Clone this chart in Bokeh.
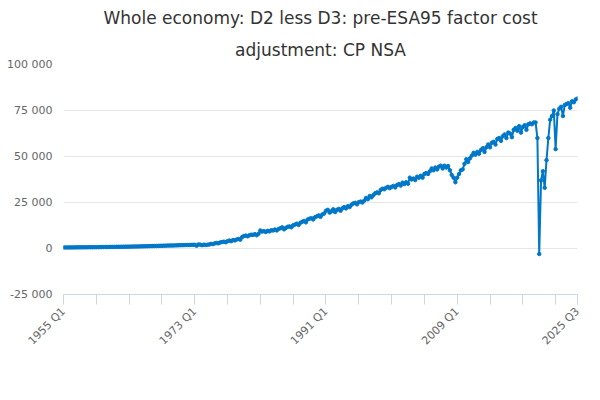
from bokeh.plotting import figure
from bokeh.models import FixedTicker, CustomJSTickFormatter, Legend, LegendItem, Title
from bokeh.embed import file_html
from bokeh.resources import INLINE
import math

values = [
550,560,570,580, 590,600,610,620, 630,640,650,660, 670,680,690,700,
700,720,730,740, 760,770,790,800, 820,830,850,860, 880,890,910,920,
940,960,970,990, 1010,1030,1050,1070, 1100,1120,1150,1170, 1200,1230,1250,1280,
1300,1330,1360,1380, 1420,1450,1480,1500, 1540,1570,1600,1620, 1650,1690,1720,1760,
1800,1820,1850,1880, 1900,1930,1950,1980,
2000,1500,2200,2100, 1800,2100,1900,2000, 2200,2500,2400,2800, 3000,2800,3300,3500,
3700,3400,4000,4300, 4000,4600,4400,4900, 5200,4800,6200,6800, 7000,6600,7200,7500,
7400,7800,7200,8000, 9800,9200,9400,9000, 9600,9300,9900,9800, 10300,9800,10600,11000,
11500,10400,11200,11800, 12000,11500,12600,13000, 13500,12800,14000,14500, 15000,14200,15800,16200,
16500,15800,17000,17500, 18000,17200,18500,19000, 20500,21000,19500,20200, 21300,19800,21000,21500,
20500,21800,22500,21800, 23000,22500,23800,24500, 24800,24000,25200,25500, 25000,26000,27500,26800,
28500,27800,29000,30000, 30500,30000,31800,32500, 32200,33000,33500,32800, 33500,34000,33200,34500,
35000,34200,35800,35000, 36000,35200,38500,37500, 38000,37200,39000,38500, 39500,38500,40500,41000,
40500,42000,43500,42500, 44000,43000,44500,45000, 43500,45000,44000,44800, 42500,40000,38500,36000,
38500,40500,42500,43000, 46000,48500,47000,49000, 50500,52000,51000,52500, 51500,53500,54500,52500,
55000,56500,55000,57500, 58000,56500,59500,60000, 58500,61000,62000,60000, 63000,62500,60500,64500,
65500,64000,66500,63000, 66000,67000,64500,67500, 68000,67500,68500,68500,
60000,-3000,37000,42000, 33000,48000,60000,70000, 72000,75000,54000,73000,
76000,77000,72000,78000, 78500,79000,76500,80000, 79500,81000,81500,
]
labels = [f"{1955 + i // 4} Q{i % 4 + 1}" for i in range(len(values))]
x = list(range(len(values)))
n = len(values) - 1

p = figure(frame_width=514, frame_height=230, output_backend="svg", toolbar_location=None,
           x_range=(0, n), y_range=(-25000, 100000),
           min_border_left=63, min_border_right=7, min_border_top=4, min_border_bottom=4,
           title=None)
p.add_layout(Title(text="adjustment: CP NSA", align="center", text_font="DejaVu Sans",
                   text_font_size="17px", text_font_style="normal", text_color="#333333"), "above")
p.add_layout(Title(text="Whole economy: D2 less D3: pre-ESA95 factor cost", align="center", text_font="DejaVu Sans",
                   text_font_size="17px", text_font_style="normal", text_color="#333333"), "above")

r = p.line(x, values, line_color="#0077c8", line_width=2)
p.scatter(x, values, size=3.5, color="#0077c8")

ticks = list(range(0, n, 18)) + [n]
p.xaxis.ticker = FixedTicker(ticks=ticks)
p.xaxis.major_label_overrides = {t: (labels[t] if (t % 72 == 0 or t == n) else "") for t in ticks}
p.xaxis.major_label_orientation = math.pi / 4
p.xaxis.axis_line_color = "#ccd6eb"
p.xaxis.major_tick_line_color = "#ccd6eb"
p.xaxis.major_tick_out = 10
p.xaxis.major_tick_in = 0
p.xaxis.minor_tick_line_color = None
p.xaxis.major_label_text_color = "#666666"
p.xaxis.major_label_text_font_size = "11px"
p.xaxis.major_label_text_font = "DejaVu Sans"
p.xgrid.grid_line_color = None

p.yaxis.ticker = FixedTicker(ticks=[-25000, 0, 25000, 50000, 75000, 100000])
p.yaxis.formatter = CustomJSTickFormatter(code="return tick.toString().replace(/\\B(?=(\\d{3})+(?!\\d))/g, ' ');")
p.yaxis.axis_line_color = None
p.yaxis.major_tick_line_color = None
p.yaxis.minor_tick_line_color = None
p.yaxis.major_label_text_color = "#666666"
p.yaxis.major_label_text_font_size = "11px"
p.yaxis.major_label_text_font = "DejaVu Sans"
p.ygrid.grid_line_color = "#e6e6e6"
p.outline_line_color = None

legend = Legend(items=[LegendItem(label="Whole economy: D2 less D3: pre-ESA95 factor cost adjustment: CP NSA", renderers=[r])],
                orientation="horizontal", border_line_color=None, background_fill_alpha=0,
                label_text_font_style="bold", label_text_font_size="12px", label_text_color="#333333",
                label_text_font="DejaVu Sans", glyph_width=20, margin=0, padding=2, location="center")
p.add_layout(legend, "below")
p.add_layout(Title(text="Source:", align="right", text_font_size="12px", text_font_style="normal",
                   text_color="#666666", text_font="DejaVu Sans"), "below")

open("out.html", "w").write(file_html(p, INLINE))
